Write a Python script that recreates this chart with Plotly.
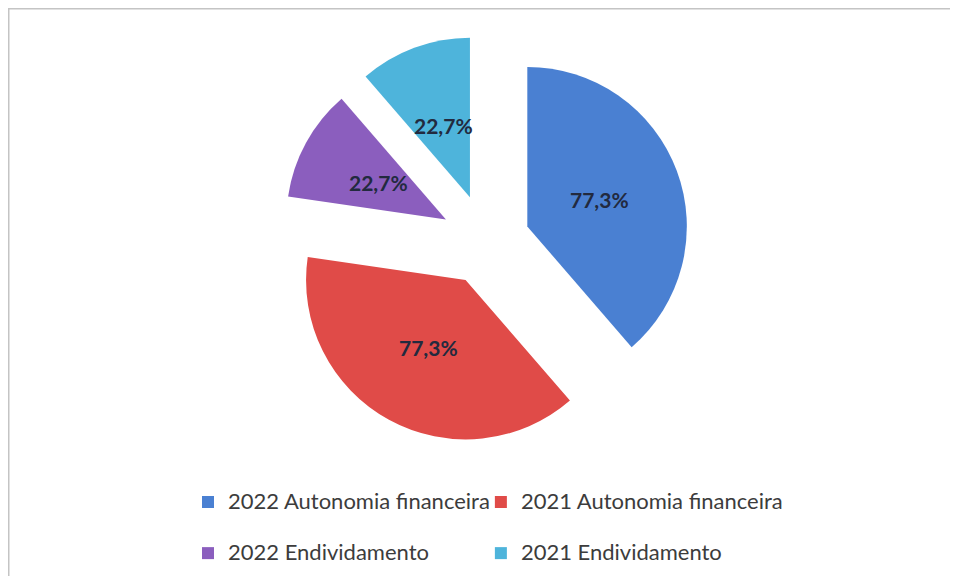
import math
import plotly.graph_objects as go

# ---- data ----
categories = [
    "2022 Autonomia financeira",
    "2021 Autonomia financeira",
    "2022 Endividamento",
    "2021 Endividamento",
]
values = [77.3, 77.3, 22.7, 22.7]
colors = ["#4A80D2", "#E04B48", "#8B5EBE", "#4EB4DB"]
pulls = [0.273, 0.273, 0.29, 0.298]

W, H = 958, 576
OFF = 8  # page offset of the figure inside the browser window
ML, MR, MT, MB = 0, 120, 0, 0
PW = W - ML - MR
PH = H - MT - MB


def fx(px):
    return (px - OFF - ML) / PW


def fy(py):
    return 1 - (py - OFF - MT) / PH


dom_x = [fx(186.5), fx(786.5)]
dom_y = [fy(448.75), fy(34.65)]

# legend entries: larger text inside a smaller legend font, plus an empty
# second line, so rows are spaced like the reference
legend_labels = ['<span style="font-size:22px">' + c + "</span><br> " for c in categories]

fig = go.Figure(
    go.Pie(
        labels=legend_labels,
        values=values,
        sort=False,
        direction="clockwise",
        rotation=0,
        pull=pulls,
        marker=dict(colors=colors, line=dict(width=0)),
        textinfo="none",
        hovertemplate="%{customdata}: %{value:.1f}%<extra></extra>",
        customdata=categories,
        domain=dict(x=dom_x, y=dom_y),
    )
)

# data labels, placed along each slice's mid-angle (same geometry plotly uses)
box_w = PW * (dom_x[1] - dom_x[0])
box_h = PH * (dom_y[1] - dom_y[0])
r = min(box_w, box_h) / (2 + 2 * max(pulls))
cx = ML + PW * (dom_x[0] + dom_x[1]) / 2
cy = MT + PH * (1 - dom_y[0]) - box_h / 2
total = sum(values)
annotations = []
cum = 0.0
for v, p in zip(values, pulls):
    mid = 2 * math.pi * (cum + v / 2) / total
    cum += v
    dist = p * r + 0.48 * r
    lx = cx + dist * math.sin(mid)
    ly = cy - dist * math.cos(mid)
    annotations.append(
        dict(
            x=(lx - ML) / PW,
            y=1 - (ly - MT) / PH,
            xref="paper",
            yref="paper",
            text=f"{v:.1f}".replace(".", ",") + "%",
            showarrow=False,
            font=dict(family="Lato", size=21, color="#222a3f", weight="bold"),
            xanchor="center",
            yanchor="middle",
        )
    )

fig.update_layout(
    width=W,
    height=H,
    margin=dict(l=ML, r=MR, t=MT, b=MB, pad=0, autoexpand=False),
    paper_bgcolor="white",
    plot_bgcolor="white",
    separators=",.",
    showlegend=True,
    annotations=annotations,
    legend=dict(
        orientation="h",
        x=fx(208 - 6),
        xanchor="left",
        y=fy(483.5),
        yanchor="top",
        indentation=-14,
        valign="top",
        font=dict(family="Lato", size=18.5, color="#3c3c3c"),
        bgcolor="rgba(0,0,0,0)",
        itemclick=False,
        itemdoubleclick=False,
    ),
    shapes=[
        dict(type="line", xref="paper", yref="paper",
             x0=fx(OFF), x1=fx(W + OFF), y0=fy(OFF + 0.75), y1=fy(OFF + 0.75),
             line=dict(color="#c4c4c4", width=1.5), layer="below"),
        dict(type="line", xref="paper", yref="paper",
             x0=fx(OFF + 0.75), x1=fx(OFF + 0.75), y0=fy(OFF), y1=fy(H + OFF),
             line=dict(color="#c4c4c4", width=1.5), layer="below"),
    ],
)

fig.write_html("out.html")
